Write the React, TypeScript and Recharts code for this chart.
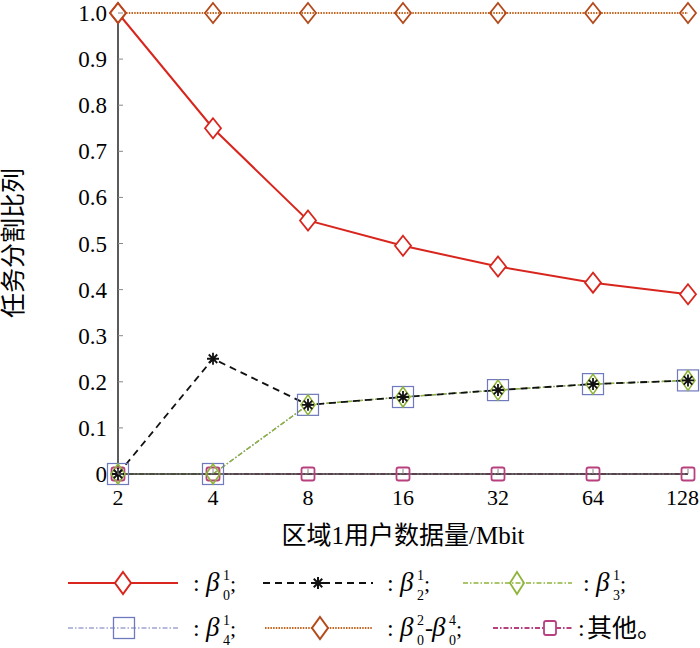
import React from 'react';
import { LineChart, Line, XAxis, YAxis, Customized } from 'recharts';

const categories = ['2', '4', '8', '16', '32', '64', '128'];
const beta01 = [1.0, 0.75, 0.55, 0.495, 0.45, 0.415, 0.39];
const beta21 = [0, 0.25, 0.15, 0.167, 0.182, 0.195, 0.203];
const beta31 = [0, 0, 0.15, 0.167, 0.182, 0.195, 0.203];
const beta41 = [0, 0, 0.15, 0.167, 0.182, 0.195, 0.203];
const beta0rest = [1, 1, 1, 1, 1, 1, 1];
const others = [0, 0, 0, 0, 0, 0, 0];
const yTicks = [0, 0.1, 0.2, 0.3, 0.4, 0.5, 0.6, 0.7, 0.8, 0.9, 1.0];

const data = categories.map((c, i) => ({
  x: c,
  b01: beta01[i],
  b21: beta21[i],
  b31: beta31[i],
  b41: beta41[i],
  b0r: beta0rest[i],
  oth: others[i],
}));

const SERIF = '"Liberation Serif", "Times New Roman", "Noto Sans CJK SC", serif';
const CJK = '"Liberation Serif", "Noto Sans CJK SC", serif';

const RED = '#d8261e';
const BLACK = '#111';
const GREEN = '#8fb43c';
const BLUE = '#6f79bd';
const BROWN = '#b34a1c';
const BROWN_LINE = '#c2651f';
const PINK = '#b8407e';
const AXIS = '#333';

const diamondPath = (cx: number, cy: number, w: number, h: number) =>
  `M${cx},${cy - h} L${cx + w},${cy} L${cx},${cy + h} L${cx - w},${cy} Z`;

const starPath = (cx: number, cy: number, r: number) => {
  const d = r * 0.7071;
  return `M${cx - r},${cy} L${cx + r},${cy} M${cx},${cy - r} L${cx},${cy + r} M${cx - d},${cy - d} L${cx + d},${cy + d} M${cx - d},${cy + d} L${cx + d},${cy - d}`;
};

const makeDiamond = (color: string, fill: string, w: number, h: number, sw: number) => (p: any) => (
  <path key={`dm-${color}-${p.index}`} d={diamondPath(p.cx, p.cy, w, h)} stroke={color} strokeWidth={sw} fill={fill} />
);
const makeSquare = (color: string, s: number, rx: number, sw: number) => (p: any) => (
  <rect key={`sq-${color}-${p.index}`} x={p.cx - s / 2} y={p.cy - s / 2} width={s} height={s} rx={rx} stroke={color} strokeWidth={sw} fill="none" />
);
const starDot = (p: any) => (
  <path key={`st-${p.index}`} d={starPath(p.cx, p.cy, 6)} stroke={BLACK} strokeWidth={1.8} fill="none" />
);

const XTick = (p: any) => {
  const { x, y, payload } = p;
  const isLast = payload.value === categories[categories.length - 1];
  return (
    <g>
      <line x1={x} x2={x} y1={y} y2={y - 5} stroke="#888" strokeWidth={1} />
      <text
        x={isLast ? 699 : x}
        y={y + 31}
        textAnchor={isLast ? 'end' : 'middle'}
        fontFamily={SERIF}
        fontSize={22}
        fill="#000"
      >
        {payload.value}
      </text>
    </g>
  );
};
const XTopTick = (p: any) => {
  const { x, y } = p;
  return <line x1={x} x2={x} y1={y} y2={y + 5} stroke="#888" strokeWidth={1} />;
};
const fmtY = (v: number) => (v === 0 ? '0' : v.toFixed(1));
const YTick = (p: any) => {
  const { x, y, payload } = p;
  return (
    <g>
      <line x1={x} x2={x + 5} y1={y} y2={y} stroke="#888" strokeWidth={1} />
      <text x={x - 11} y={y + 8} textAnchor="end" fontFamily={SERIF} fontSize={23} fill="#000">
        {fmtY(payload.value)}
      </text>
    </g>
  );
};
const YRightTick = (p: any) => {
  const { x, y } = p;
  return <line x1={x} x2={x - 5} y1={y} y2={y} stroke="#888" strokeWidth={1} />;
};

type Entry = {
  x1: number; x2: number; mx: number; y: number;
  stroke: string; dash?: string; sw: number;
  marker: (cx: number, cy: number) => React.ReactNode;
  label: React.ReactNode;
};

const BetaLabel = ({ tx, y, sup, sub }: { tx: number; y: number; sup: string; sub: string }) => (
  <g fontFamily={SERIF} fill="#000">
    <text x={tx} y={y + 8} fontSize={24}>:</text>
    <text x={tx + 13} y={y + 8} fontSize={27} fontStyle="italic">β</text>
    <text x={tx + 30} y={y - 3} fontSize={14}>{sup}</text>
    <text x={tx + 30} y={y + 17} fontSize={14}>{sub}</text>
    <text x={tx + 37} y={y + 8} fontSize={22}>;</text>
  </g>
);

const Beta2Label = ({ tx, y }: { tx: number; y: number }) => (
  <g fontFamily={SERIF} fill="#000">
    <text x={tx} y={y + 8} fontSize={24}>:</text>
    <text x={tx + 13} y={y + 8} fontSize={27} fontStyle="italic">β</text>
    <text x={tx + 30} y={y - 3} fontSize={14}>2</text>
    <text x={tx + 30} y={y + 17} fontSize={14}>0</text>
    <text x={tx + 38} y={y + 8} fontSize={24}>-</text>
    <text x={tx + 45} y={y + 8} fontSize={27} fontStyle="italic">β</text>
    <text x={tx + 62} y={y - 3} fontSize={14}>4</text>
    <text x={tx + 62} y={y + 17} fontSize={14}>0</text>
    <text x={tx + 69} y={y + 8} fontSize={22}>;</text>
  </g>
);

const Overlay = () => {
  const r1 = 583;
  const r2 = 628;
  const entries: Entry[] = [
    { x1: 68, x2: 178, mx: 123, y: r1, stroke: RED, sw: 2.2, marker: (cx, cy) => <path d={diamondPath(cx, cy, 8, 11)} stroke={RED} strokeWidth={2} fill="#fff" />, label: <BetaLabel tx={193} y={r1} sup="1" sub="0" /> },
    { x1: 263, x2: 373, mx: 318, y: r1, stroke: BLACK, dash: '7 5', sw: 2, marker: (cx, cy) => <path d={starPath(cx, cy, 6)} stroke={BLACK} strokeWidth={2} />, label: <BetaLabel tx={387} y={r1} sup="1" sub="2" /> },
    { x1: 463, x2: 572, mx: 517, y: r1, stroke: GREEN, dash: '5 2 1.5 2', sw: 1.6, marker: (cx, cy) => <path d={diamondPath(cx, cy, 7, 11)} stroke={GREEN} strokeWidth={1.8} fill="none" />, label: <BetaLabel tx={583} y={r1} sup="1" sub="3" /> },
    { x1: 68, x2: 178, mx: 124, y: r2, stroke: BLUE, dash: '5 2 1.5 2', sw: 1.2, marker: (cx, cy) => <rect x={cx - 10.5} y={cy - 10.5} width={21} height={21} stroke={BLUE} strokeWidth={1.3} fill="none" />, label: <BetaLabel tx={193} y={r2} sup="1" sub="4" /> },
    { x1: 265, x2: 373, mx: 320, y: r2, stroke: BROWN_LINE, dash: '1.5 1.2', sw: 2, marker: (cx, cy) => <path d={diamondPath(cx, cy, 8, 11)} stroke={BROWN} strokeWidth={2} fill="#fff" />, label: <Beta2Label tx={387} y={r2} /> },
    { x1: 493, x2: 572, mx: 550, y: r2, stroke: PINK, dash: '5 2 1.5 2', sw: 1.8, marker: (cx, cy) => <rect x={cx - 6} y={cy - 7} width={12} height={14} rx={2} stroke={PINK} strokeWidth={1.8} fill="#fff" />, label: (
      <g fontFamily={CJK} fill="#000">
        <text x={578} y={r2 + 8} fontSize={24}>:</text>
        <text x={587} y={r2 + 9} fontSize={25}>其他。</text>
      </g>
    ) },
  ];
  return (
    <g>
      <text
        transform="translate(22,243) rotate(-90)"
        textAnchor="middle"
        fontFamily={CJK}
        fontSize={25}
        fill="#000"
      >
        任务分割比列
      </text>
      <text x={403} y={544} textAnchor="middle" fontFamily={CJK} fontSize={25} fill="#000">
        区域1用户数据量/Mbit
      </text>
      {entries.map((e, i) => (
        <g key={i}>
          <line x1={e.x1} x2={e.x2} y1={e.y} y2={e.y} stroke={e.stroke} strokeWidth={e.sw} strokeDasharray={e.dash} />
          {e.marker(e.mx, e.y)}
          {e.label}
        </g>
      ))}
    </g>
  );
};

export default function App() {
  return (
    <div style={{ position: 'absolute', left: 0, top: 0, width: 700, height: 648, background: '#fff' }}>
      <LineChart width={700} height={648} data={data} margin={{ top: 13, right: 12, bottom: 144, left: 0 }}>
        <XAxis
          dataKey="x"
          height={30}
          tickSize={0}
          tickMargin={0}
          tick={<XTick />}
          axisLine={{ stroke: AXIS, strokeWidth: 1.6 }}
          interval={0}
        />
        <XAxis
          xAxisId="top"
          orientation="top"
          dataKey="x"
          height={0}
          tickSize={0}
          tickMargin={0}
          tick={<XTopTick />}
          axisLine={{ stroke: AXIS, strokeWidth: 1.6 }}
          interval={0}
        />
        <YAxis
          width={118}
          domain={[0, 1]}
          ticks={yTicks}
          tickSize={0}
          tickMargin={0}
          tick={<YTick />}
          axisLine={{ stroke: AXIS, strokeWidth: 1.6 }}
          interval={0}
        />
        <YAxis
          yAxisId="right"
          orientation="right"
          width={0}
          domain={[0, 1]}
          ticks={yTicks}
          tickSize={0}
          tickMargin={0}
          tick={<YRightTick />}
          axisLine={{ stroke: AXIS, strokeWidth: 1.6 }}
          interval={0}
        />
        <Line dataKey="oth" stroke={PINK} strokeWidth={1.6} strokeDasharray="5 2 1.5 2" dot={makeSquare(PINK, 13, 2, 1.8)} isAnimationActive={false} />
        <Line dataKey="b41" stroke={BLUE} strokeWidth={1.2} strokeDasharray="5 2 1.5 2" dot={makeSquare(BLUE, 21, 0, 1.2)} isAnimationActive={false} />
        <Line dataKey="b31" stroke={GREEN} strokeWidth={1.5} strokeDasharray="5 2 1.5 2" dot={makeDiamond(GREEN, 'none', 7, 10, 1.6)} isAnimationActive={false} />
        <Line dataKey="b21" stroke={BLACK} strokeWidth={1.8} strokeDasharray="7 5" dot={starDot} isAnimationActive={false} />
        <Line dataKey="b01" stroke={RED} strokeWidth={2} dot={makeDiamond(RED, '#fff', 8, 10, 1.8)} isAnimationActive={false} />
        <Line dataKey="b0r" stroke={BROWN_LINE} strokeWidth={2} strokeDasharray="1.5 1.2" dot={makeDiamond(BROWN, 'none', 8, 10, 1.8)} isAnimationActive={false} />
        <Customized component={Overlay} />
      </LineChart>
    </div>
  );
}
